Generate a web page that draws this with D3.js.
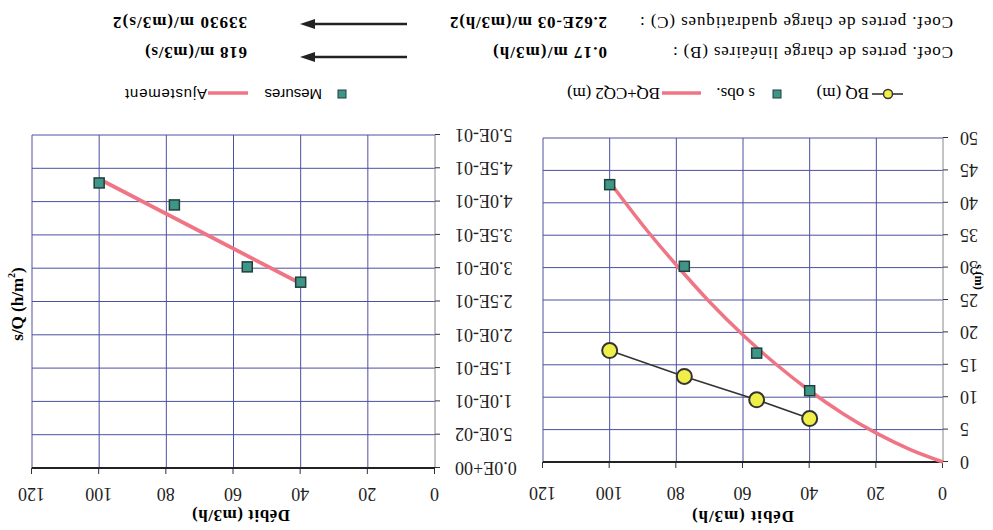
<!DOCTYPE html>
<html><head><meta charset="utf-8">
<script src="https://cdn.jsdelivr.net/npm/d3@7"></script>
<style>html,body{margin:0;padding:0;background:#fff}svg{display:block}</style>
</head><body>
<script>
// ---- data ----
const xTicks = [0, 20, 40, 60, 80, 100, 120];
const yTicksA = [0, 5, 10, 15, 20, 25, 30, 35, 40, 45, 50];
const yTicksB = [0, 0.05, 0.10, 0.15, 0.20, 0.25, 0.30, 0.35, 0.40, 0.45, 0.50];
const yTickLabelsB = ["0.0E+00","5.0E-02","1.0E-01","1.5E-01","2.0E-01","2.5E-01","3.0E-01","3.5E-01","4.0E-01","4.5E-01","5.0E-01"];
const debitObs = [40, 55.9, 77.6, 100];
const sObs = [11.0, 16.8, 30.2, 42.8];
const bqObs = [6.7, 9.6, 13.2, 17.2];
const fitDebit = [0, 10, 20, 30, 40, 50, 60, 70, 80, 90, 100];
const fitS = [0, 1.96, 4.45, 7.46, 11.0, 15.05, 19.6, 24.7, 30.4, 36.5, 43.2];
const sqObs = [0.279, 0.302, 0.395, 0.428];
const sqFitDebit = [40, 100];
const sqFit = [0.277, 0.434];
const coefLabels = ["Coef. pertes de charge linéaires (B) :", "Coef. pertes de charge quadratiques (C) :"];
const coefValues = ["0.17 m/(m3/h)", "2.62E-03 m/(m3/h)2"];
const coefConverted = ["618 m/(m3/s)", "33930 m/(m3/s)2"];

const W = 993, H = 530;
const SERIF = "'Liberation Serif','DejaVu Serif',serif";
const SANS = "'Liberation Sans',Arial,sans-serif";
const GRID = "#4c50a0";
const PINK = "#f07584";
const TEAL = "#3f9686";
const YELLOW = "#f0ee48";

const svg = d3.select("body").append("svg").attr("width", W).attr("height", H);
svg.append("rect").attr("width", W).attr("height", H).attr("fill", "#fff");
const root = svg.append("g").attr("transform", `rotate(180 ${W/2} ${H/2})`);

function chart(opts) {
  const {x, y, yTicks, yFmt, yPad} = opts;
  const g = root.append("g");
  // grid
  g.selectAll(".vg").data(xTicks.slice(1)).join("line")
    .attr("x1", d => x(d)).attr("x2", d => x(d))
    .attr("y1", y(y.domain()[0])).attr("y2", y(y.domain()[1]))
    .attr("stroke", GRID).attr("stroke-width", 1);
  g.selectAll(".hg").data(yTicks.slice(1)).join("line")
    .attr("x1", x(0)).attr("x2", x(120))
    .attr("y1", d => y(d)).attr("y2", d => y(d))
    .attr("stroke", GRID).attr("stroke-width", 1);
  g.append("line").attr("x1", x(0)).attr("x2", x(0))
    .attr("y1", y(y.domain()[0])).attr("y2", y(y.domain()[1]))
    .attr("stroke", "#888").attr("stroke-width", 1);
  // axes
  const ax = g.append("g").attr("transform", `translate(0,${y(0)})`)
    .call(d3.axisTop(x).tickValues(xTicks).tickSize(6).tickPadding(opts.xPad));
  ax.select(".domain").remove();
  ax.selectAll("line").attr("stroke", "#333");
  ax.selectAll("text").attr("font-family", SERIF).attr("font-size", 18).attr("fill", "#222");
  const ay = g.append("g").attr("transform", `translate(${x(0)},0)`)
    .call(d3.axisLeft(y).tickValues(yTicks).tickFormat(yFmt).tickSize(5).tickPadding(yPad));
  ay.select(".domain").remove();
  ay.selectAll("line").attr("stroke", "#333");
  ay.selectAll("text").attr("font-family", SERIF).attr("font-size", 18).attr("fill", "#222");
  g.append("line").attr("x1", x(0)).attr("x2", x(120)).attr("y1", y(0)).attr("y2", y(0))
    .attr("stroke", "#222").attr("stroke-width", 2.2);
  return g;
}

// ---- Chart A : s vs Débit ----
const xA = d3.scaleLinear().domain([0, 120]).range([50, 450]);
const yA = d3.scaleLinear().domain([0, 50]).range([68, 392]);
const gA = chart({x: xA, y: yA, yTicks: yTicksA, yFmt: d => d, xPad: 19, yPad: 12});
gA.append("path").datum(fitDebit.map((q, i) => [q, fitS[i]]))
  .attr("d", d3.line().x(d => xA(d[0])).y(d => yA(d[1])).curve(d3.curveMonotoneX))
  .attr("fill", "none").attr("stroke", PINK).attr("stroke-width", 3.5);
gA.append("path").datum(debitObs.map((q, i) => [q, bqObs[i]]))
  .attr("d", d3.line().x(d => xA(d[0])).y(d => yA(d[1])))
  .attr("fill", "none").attr("stroke", "#333").attr("stroke-width", 1.6);
gA.selectAll(".c").data(debitObs).join("circle")
  .attr("cx", d => xA(d)).attr("cy", (d, i) => yA(bqObs[i])).attr("r", 7.5)
  .attr("fill", YELLOW).attr("stroke", "#333").attr("stroke-width", 2);
gA.selectAll(".sq").data(debitObs).join("rect")
  .attr("x", d => xA(d) - 5).attr("y", (d, i) => yA(sObs[i]) - 5).attr("width", 10).attr("height", 10)
  .attr("fill", TEAL).attr("stroke", "#1f3f3a").attr("stroke-width", 1.5);
gA.append("text").attr("x", 250).attr("y", 15).attr("text-anchor", "middle").attr("dominant-baseline", "middle")
  .attr("font-family", SERIF).attr("font-weight", "bold").attr("font-size", 17)
  .attr("textLength", 102).attr("lengthAdjust", "spacing").text("Débit (m3/h)");
gA.append("text").attr("transform", "translate(15,253) rotate(-90)").attr("text-anchor", "middle")
  .attr("dominant-baseline", "middle").attr("font-family", SERIF).attr("font-weight", "bold")
  .attr("font-size", 12).text("s (m)");

// ---- Chart B : s/Q vs Débit ----
const xB = d3.scaleLinear().domain([0, 120]).range([558, 961]);
const yB = d3.scaleLinear().domain([0, 0.5]).range([62, 395]);
const gB = chart({x: xB, y: yB, yTicks: yTicksB, yFmt: (d, i) => yTickLabelsB[i], xPad: 14, yPad: 15});
gB.append("path").datum(sqFitDebit.map((q, i) => [q, sqFit[i]]))
  .attr("d", d3.line().x(d => xB(d[0])).y(d => yB(d[1])))
  .attr("fill", "none").attr("stroke", PINK).attr("stroke-width", 3.8);
gB.selectAll(".sq").data(debitObs).join("rect")
  .attr("x", d => xB(d) - 5).attr("y", (d, i) => yB(sqObs[i]) - 5).attr("width", 10).attr("height", 10)
  .attr("fill", TEAL).attr("stroke", "#1f3f3a").attr("stroke-width", 1.5);
gB.append("text").attr("x", 752).attr("y", 16).attr("text-anchor", "middle").attr("dominant-baseline", "middle")
  .attr("font-family", SERIF).attr("font-weight", "bold").attr("font-size", 17)
  .attr("textLength", 98).attr("lengthAdjust", "spacing").text("Débit (m3/h)");
const tB = gB.append("text").attr("transform", "translate(974,226) rotate(90)").attr("text-anchor", "middle")
  .attr("dominant-baseline", "middle").attr("font-family", SERIF).attr("font-weight", "bold")
  .attr("font-size", 17);
tB.append("tspan").text("s/Q (h/m");
tB.append("tspan").attr("font-size", 10).attr("dy", -6).text("2");
tB.append("tspan").attr("dy", 6).text(")");

// ---- Legends ----
const LY = 436;
const lg = root.append("g");
lg.append("line").attr("x1", 90).attr("x2", 121).attr("y1", LY).attr("y2", LY).attr("stroke", "#333").attr("stroke-width", 1.6);
lg.append("circle").attr("cx", 105).attr("cy", LY).attr("r", 4.5).attr("fill", YELLOW).attr("stroke", "#333").attr("stroke-width", 1.5);
lg.append("text").attr("x", 124).attr("y", LY).attr("dy", "0.35em").attr("font-family", SERIF).attr("font-size", 17).text("BQ (m)");
lg.append("rect").attr("x", 212).attr("y", LY - 4).attr("width", 8).attr("height", 8).attr("fill", TEAL).attr("stroke", "#1f3f3a");
lg.append("text").attr("x", 238).attr("y", LY).attr("dy", "0.35em").attr("font-family", SERIF).attr("font-size", 17).text("s obs.");
lg.append("line").attr("x1", 292).attr("x2", 331).attr("y1", LY + 1).attr("y2", LY + 1).attr("stroke", PINK).attr("stroke-width", 3.5);
lg.append("text").attr("x", 333).attr("y", LY).attr("dy", "0.35em").attr("font-family", SERIF).attr("font-size", 17)
  .attr("textLength", 93).attr("lengthAdjust", "spacing").text("BQ+CQ2 (m)");
lg.append("rect").attr("x", 647).attr("y", LY - 4).attr("width", 8).attr("height", 8).attr("fill", TEAL).attr("stroke", "#1f3f3a");
lg.append("text").attr("x", 671).attr("y", LY).attr("dy", "0.35em").attr("font-family", SANS).attr("font-size", 15).text("Mesures");
lg.append("line").attr("x1", 745).attr("x2", 785).attr("y1", LY + 1).attr("y2", LY + 1).attr("stroke", PINK).attr("stroke-width", 3.5);
lg.append("text").attr("x", 786).attr("y", LY).attr("dy", "0.35em").attr("font-family", SANS).attr("font-size", 15)
  .attr("textLength", 82).attr("lengthAdjust", "spacing").text("Ajustement");

// ---- Coefficients ----
const rowsY = [477, 507];
const labelW = [280, 313], valW = [114, 157], convW = [102, 134];
const cg = root.append("g");
coefLabels.forEach((t, i) => {
  cg.append("text").attr("x", 40).attr("y", rowsY[i]).attr("dy", "0.35em").attr("font-family", SERIF)
    .attr("font-size", 17).attr("textLength", labelW[i]).attr("lengthAdjust", "spacing").text(t);
  cg.append("text").attr("x", 386).attr("y", rowsY[i]).attr("dy", "0.35em").attr("font-family", SERIF)
    .attr("font-weight", "bold").attr("font-size", 17).attr("textLength", valW[i]).attr("lengthAdjust", "spacing").text(coefValues[i]);
  const ay = rowsY[i] - 4 + (i ? 3 : 0);
  cg.append("line").attr("x1", 586).attr("x2", 682).attr("y1", ay).attr("y2", ay).attr("stroke", "#222").attr("stroke-width", 2.5);
  cg.append("path").attr("d", `M693,${ay} L678,${ay - 5} L678,${ay + 5} Z`).attr("fill", "#222");
  cg.append("text").attr("x", 746).attr("y", rowsY[i]).attr("dy", "0.35em").attr("font-family", SERIF)
    .attr("font-weight", "bold").attr("font-size", 17).attr("textLength", convW[i]).attr("lengthAdjust", "spacing").text(coefConverted[i]);
});
</script>
</body></html>
